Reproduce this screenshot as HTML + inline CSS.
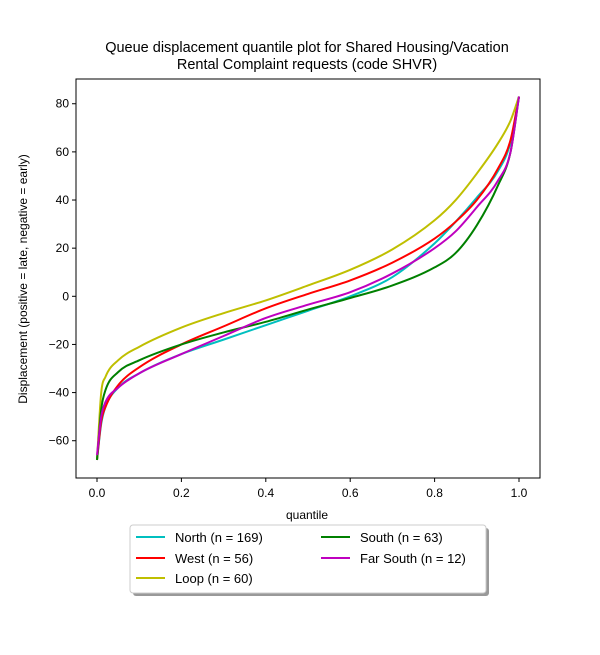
<!DOCTYPE html>
<html><head><meta charset="utf-8"><style>
body{margin:0;background:#fff;}
svg{font-family:"Liberation Sans","DejaVu Sans",sans-serif;}
</style></head><body>
<svg id="chart" width="600" height="650" xmlns="http://www.w3.org/2000/svg">
<text x="307" y="52" text-anchor="middle" font-size="14.5"><tspan x="307">Queue displacement quantile plot for Shared Housing/Vacation</tspan><tspan x="307" dy="17">Rental Complaint  requests (code SHVR)</tspan></text>
<g id="plot"></g>
<rect x="76" y="79" width="464" height="399" fill="none" stroke="#000" stroke-width="1"/>
<g id="axes" font-size="12"></g>
<text x="307" y="519" text-anchor="middle" font-size="12">quantile</text>
<text transform="translate(27,279) rotate(-90)" text-anchor="middle" font-size="12">Displacement (positive = late, negative = early)</text>
<g>
<rect x="133" y="528" width="356" height="68" fill="#999" rx="3"/>
<rect x="130" y="525" width="356" height="68" fill="#fff" stroke="#ccc" rx="3"/>
<g id="legend" font-size="13"></g>
</g>
</svg>
<script>
const quantiles=[0,0.01,0.02,0.05,0.1,0.2,0.3,0.4,0.5,0.6,0.7,0.8,0.85,0.9,0.95,0.98,1.0];
const northVals=[-68,-53,-46,-38,-32,-24,-18,-12,-6,0,8,22,31,41,52,64,83];
const westVals=[-68,-52,-46,-37,-29.5,-20,-12.5,-5,1,6.6,14,24,31,40,53,65,83];
const loopVals=[-68,-40,-33.5,-26.6,-21,-13,-7,-1.7,4.5,11,19.5,31.6,40,51,63.5,73,83];
const southVals=[-68,-47,-39,-31.5,-26.6,-20,-15,-10.6,-5.5,-0.7,4.5,12,18,29.5,46,60,83];
const farSouthVals=[-66,-50,-44,-38,-32,-24,-16.5,-9,-3.5,1.7,9.5,20,27,37,48,60,83];
const seriesNames=["North (n = 169)","West (n = 56)","Loop (n = 60)","South (n = 63)","Far South (n = 12)"];
const seriesData=[northVals,westVals,loopVals,southVals,farSouthVals];
const seriesColors=["#00bfbf","#ff0000","#bfbf00","#008000","#bf00bf"];
const xTicks=[0,0.2,0.4,0.6,0.8,1.0];
const yTicks=[-60,-40,-20,0,20,40,60,80];
const NS="http://www.w3.org/2000/svg";
const xs=v=>97+v*422;
const ys=v=>296.3-v*2.407;
function mk(t,a,p){const e=document.createElementNS(NS,t);for(const k in a)e.setAttribute(k,a[k]);p.appendChild(e);return e;}
const axes=document.getElementById('axes');
xTicks.forEach(t=>{
 const l=mk('line',{x1:xs(t),x2:xs(t),y1:478,y2:482,stroke:'#000'},axes);
 
 
 const tx=mk('text',{x:xs(t),y:497,'text-anchor':'middle'},axes);tx.textContent=t.toFixed(1);
 
 
});
yTicks.forEach(t=>{
 const l=mk('line',{x1:72,x2:76,y1:ys(t),y2:ys(t),stroke:'#000'},axes);
 
 
 const tx=mk('text',{x:69,y:ys(t)+4,'text-anchor':'end'},axes);tx.textContent=t<0?'\u2212'+(-t):String(t);
 
 
});
function monotone(xv,yv){
 const n=xv.length,d=[],m=[];
 for(let i=0;i<n-1;i++)d.push((yv[i+1]-yv[i])/(xv[i+1]-xv[i]));
 m[0]=d[0];m[n-1]=d[n-2];
 for(let i=1;i<n-1;i++){m[i]=(d[i-1]*d[i]<=0)?0:(d[i-1]+d[i])/2;}
 for(let i=0;i<n-1;i++){if(d[i]===0){m[i]=m[i+1]=0;continue;}const a=m[i]/d[i],b=m[i+1]/d[i],s=a*a+b*b;if(s>9){const t=3/Math.sqrt(s);m[i]=t*a*d[i];m[i+1]=t*b*d[i];}}
 let p='M'+xs(xv[0])+','+ys(yv[0]);
 for(let i=0;i<n-1;i++){const h=xv[i+1]-xv[i];
  p+=' C'+xs(xv[i]+h/3)+','+ys(yv[i]+m[i]*h/3)+' '+xs(xv[i+1]-h/3)+','+ys(yv[i+1]-m[i+1]*h/3)+' '+xs(xv[i+1])+','+ys(yv[i+1]);}
 return p;
}
const plot=document.getElementById('plot');
[0,1,2,3,4].forEach(i=>{
 const p=mk('path',{d:monotone(quantiles,seriesData[i]),fill:'none',stroke:seriesColors[i],'stroke-width':2},plot);
 
 
});
const leg=document.getElementById('legend');
const pos=[[136,537],[136,558],[136,578],[321,537],[321,558]];
seriesNames.forEach((n,i)=>{
 const [x,y]=pos[i];
 const l=mk('line',{x1:x,x2:x+29,y1:y,y2:y,stroke:seriesColors[i],'stroke-width':2},leg);
 
 
 const t=mk('text',{x:x+39,y:y+5},leg);t.textContent=n;
 
 
});
</script>
</body></html>
